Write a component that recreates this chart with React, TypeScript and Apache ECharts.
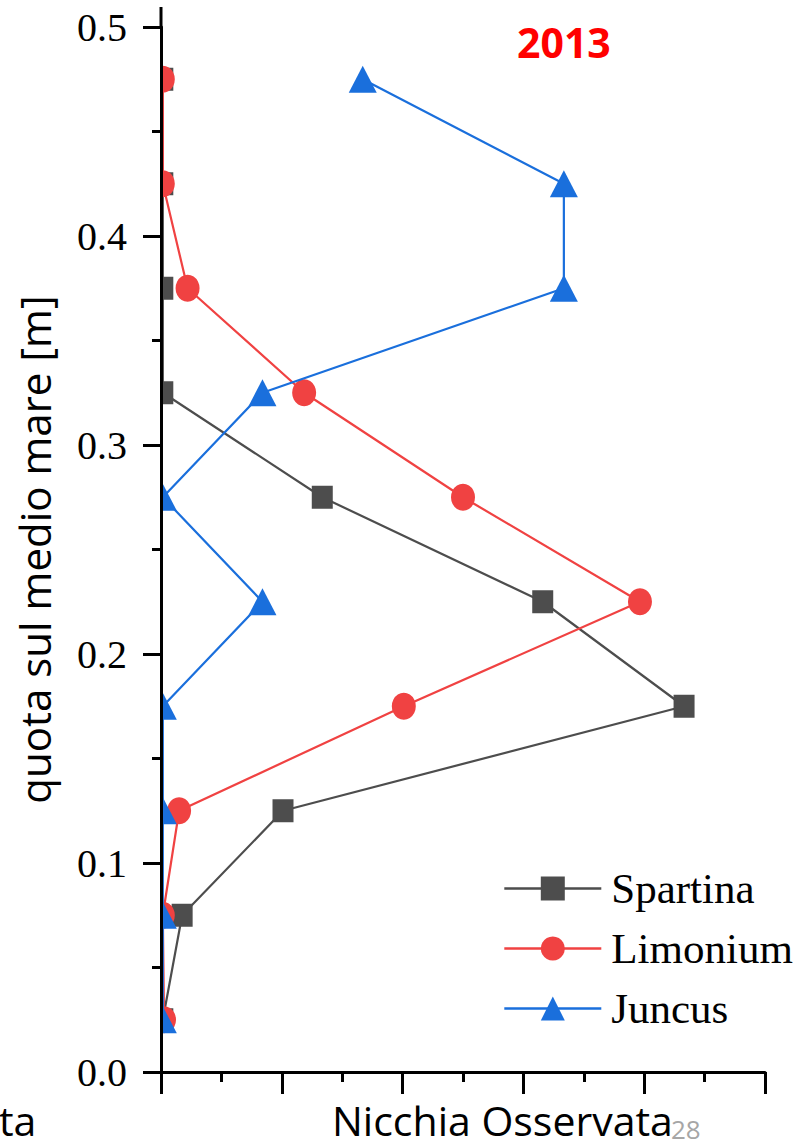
import React, { useEffect, useRef } from "react";
import * as echarts from "echarts";

// heights (m) on the y axis
const heights = [0.025, 0.075, 0.125, 0.175, 0.225, 0.275, 0.325, 0.375, 0.425, 0.475];
// observed niche values (x axis, arbitrary units)
const spartina = [0.03, 0.35, 2.02, 8.66, 6.32, 2.67, 0.03, 0.03, 0.03, 0.03];
const limonium = [0.05, 0.03, 0.3, 4.02, 7.93, 5.0, 2.37, 0.44, 0.03, 0.03];
const juncus = [0.03, 0.03, 0.03, 0.03, 1.68, 0.03, 1.68, 6.67, 6.67, 3.34];
const seriesNames = ["Spartina", "Limonium", "Juncus"];
const yearLabel = "2013";
const yAxisName = "quota sul medio mare [m]";
const xAxisText = "Nicchia Osservata";
const leftCutText = "ta";
const pageNumber = "28";

const GRID_LEFT = 161;
const GRID_TOP = 27;
const GRID_RIGHT = 35;
const GRID_BOTTOM = 74;

function pairs(xs: number[]) {
  return xs.map((x, i) => [x, heights[i]]);
}

export default function App() {
  const ref = useRef<HTMLDivElement>(null);
  useEffect(() => {
    if (!ref.current) return;
    const chart = echarts.init(ref.current, undefined, { renderer: "svg" });
    const serif = "'Liberation Serif', 'Times New Roman', serif";
    const sans = "'Open Sans', 'Noto Sans', sans-serif";
    chart.setOption({
      animation: false,
      backgroundColor: "#ffffff",
      grid: { left: GRID_LEFT, top: GRID_TOP, right: GRID_RIGHT, bottom: GRID_BOTTOM },
      legend: {
        orient: "vertical",
        left: 503,
        top: 867,
        padding: 0,
        itemWidth: 97,
        itemHeight: 30,
        itemGap: 17,
        data: seriesNames,
        lineStyle: { width: 2.6 },
        textStyle: { fontFamily: serif, fontSize: 43, color: "#000", padding: [0, 0, 0, 5], lineHeight: 32 },
      },
      xAxis: {
        type: "value",
        min: 0,
        max: 10,
        interval: 2,
        z: 10,
        axisLine: { show: true, lineStyle: { color: "#000", width: 3 } },
        axisTick: { show: true, length: 22, lineStyle: { color: "#000", width: 3 } },
        minorTick: { show: true, splitNumber: 2, length: 10, lineStyle: { color: "#000", width: 3 } },
        axisLabel: { show: false },
        splitLine: { show: false },
      },
      yAxis: {
        type: "value",
        min: 0,
        max: 0.5,
        interval: 0.1,
        z: 10,
        name: yAxisName,
        nameLocation: "middle",
        nameRotate: 90,
        nameGap: 106,
        nameTextStyle: { fontFamily: sans, fontSize: 42, color: "#000", verticalAlign: "bottom" },
        axisLine: { show: true, lineStyle: { color: "#000", width: 3 } },
        axisTick: { show: true, length: 18, lineStyle: { color: "#000", width: 3 } },
        minorTick: { show: true, splitNumber: 2, length: 9, lineStyle: { color: "#000", width: 3 } },
        axisLabel: {
          fontFamily: serif,
          fontSize: 40,
          color: "#000",
          margin: 34,
          formatter: (v: number) => v.toFixed(1),
        },
        splitLine: { show: false },
      },
      series: [
        {
          name: seriesNames[0],
          type: "line",
          data: pairs(spartina),
          symbol: "rect",
          symbolSize: [21, 23],
          color: "#4d4d4d",
          lineStyle: { color: "#4d4d4d", width: 2.2 },
          itemStyle: { color: "#4d4d4d" },
          z: 2,
        },
        {
          name: seriesNames[1],
          type: "line",
          data: pairs(limonium),
          symbol: "circle",
          symbolSize: [24, 27],
          color: "#f04242",
          lineStyle: { color: "#f04242", width: 2.2 },
          itemStyle: { color: "#f04242" },
          z: 3,
        },
        {
          name: seriesNames[2],
          type: "line",
          data: pairs(juncus),
          symbol: "triangle",
          symbolSize: [28, 27],
          color: "#1a6fdc",
          lineStyle: { color: "#1a6fdc", width: 2.2 },
          itemStyle: { color: "#1a6fdc" },
          z: 4,
        },
      ],
      graphic: {
        elements: [
          {
            type: "rect",
            z: 6,
            silent: true,
            shape: { x: GRID_LEFT - 16, y: 0, width: 16, height: 1146 - GRID_BOTTOM },
            style: { fill: "#ffffff" },
          },
          {
            type: "line",
            z: 11,
            silent: true,
            shape: { x1: GRID_LEFT, y1: 7, x2: GRID_LEFT, y2: GRID_TOP },
            style: { stroke: "#000", lineWidth: 3 },
          },
          {
            type: "text",
            z: 11,
            left: 517,
            top: 21,
            style: { text: yearLabel, fontFamily: sans, fontWeight: "bold", fontSize: 41, fill: "#ff0000" },
          },
          {
            type: "text",
            z: 11,
            left: 332,
            top: 1099,
            style: { text: xAxisText, fontFamily: sans, fontSize: 41, fill: "#000" },
          },
          {
            type: "text",
            z: 11,
            left: -1,
            top: 1099,
            style: { text: leftCutText, fontFamily: sans, fontSize: 41, fill: "#000" },
          },
          {
            type: "text",
            z: 11,
            left: 671,
            top: 1116,
            style: { text: pageNumber, fontFamily: sans, fontSize: 26, fill: "#a6a6a6" },
          },
        ],
      },
    });
    return () => chart.dispose();
  }, []);
  return (
    <div
      ref={ref}
      style={{ position: "fixed", left: 0, top: 0, width: 800, height: 1146, background: "#fff" }}
    />
  );
}
